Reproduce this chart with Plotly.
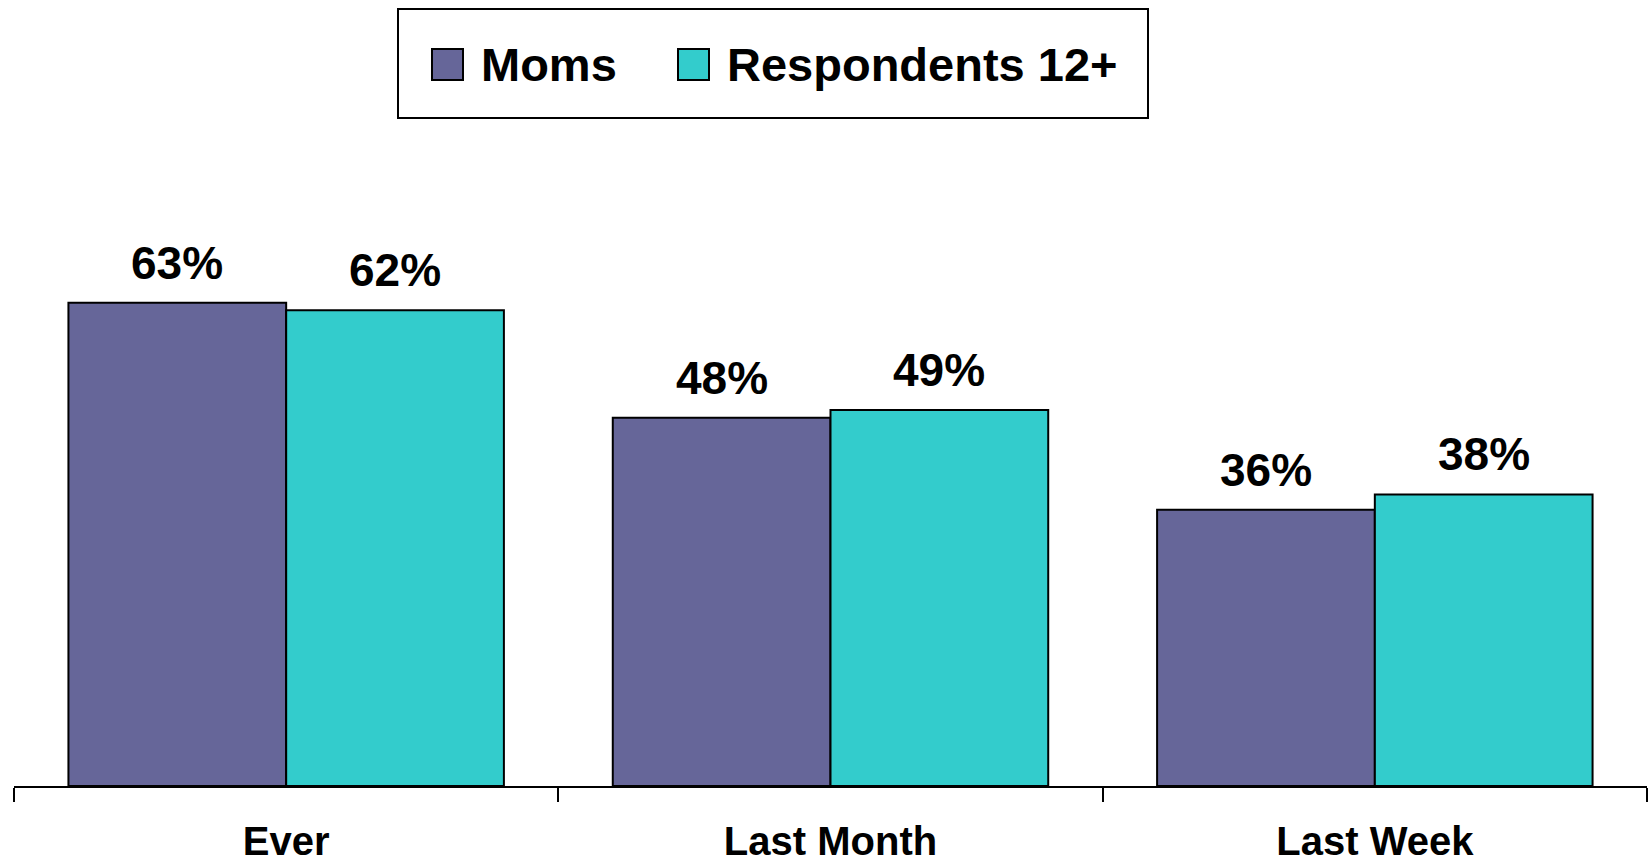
import plotly.graph_objects as go

categories = ["Ever", "Last Month", "Last Week"]
moms = [63, 48, 36]
respondents = [62, 49, 38]
series_names = ["Moms", "Respondents 12+"]
series_colors = ["#666699", "#33CCCC"]

FONT = "Liberation Sans, Arial, sans-serif"

W, H = 1648, 863
L, R, T, B = 14, 1, 249, 77
PLOT_W = W - L - R
PLOT_H = H - T - B

fig = go.Figure()
for name, vals, color in zip(series_names, [moms, respondents], series_colors):
    fig.add_trace(go.Bar(
        name=name, x=categories, y=vals,
        marker=dict(color=color, line=dict(color="black", width=2)),
        showlegend=False,
    ))

# value labels above each bar
for k, vals in enumerate([moms, respondents]):
    offset = -0.2 if k == 0 else 0.2
    for i, v in enumerate(vals):
        fig.add_annotation(
            x=i + offset, y=v, xref="x", yref="y",
            text=f"{v}%", showarrow=False,
            yanchor="bottom", yshift=12,
            font=dict(family=FONT, size=46, color="black", weight="bold"),
        )

# legend box placed in pixel positions, converted to plot-area paper coordinates
def px(x):
    return (x - L) / PLOT_W
def py(y):
    return (H - B - y) / PLOT_H

fig.add_shape(type="rect", xref="paper", yref="paper",
              x0=px(398), x1=px(1148), y0=py(118), y1=py(9),
              line=dict(color="black", width=2), fillcolor="white", layer="above")
legend_items = [(432, 479), (678, 725)]
for (mx, tx), name, color in zip(legend_items, series_names, series_colors):
    fig.add_shape(type="rect", xref="paper", yref="paper",
                  x0=px(mx), x1=px(mx + 31), y0=py(80), y1=py(49),
                  line=dict(color="black", width=2), fillcolor=color, layer="above")
    fig.add_annotation(x=px(tx), y=py(64.5), xref="paper", yref="paper",
                       text=name, showarrow=False, xanchor="left", yanchor="middle",
                       font=dict(family=FONT, size=47, color="black", weight="bold"))

fig.update_layout(
    width=W, height=H,
    margin=dict(l=L, r=R, t=T, b=B, autoexpand=False),
    plot_bgcolor="white", paper_bgcolor="white",
    barmode="group", bargap=0.2, bargroupgap=0,
    xaxis=dict(
        showline=True, linecolor="black", linewidth=2,
        ticks="outside", tickson="boundaries", ticklen=14, tickwidth=2, tickcolor="black",
        ticklabelstandoff=19, automargin=False,
        tickfont=dict(family=FONT, size=40, color="black", weight="bold"),
        showgrid=False, zeroline=False, fixedrange=True,
    ),
    yaxis=dict(visible=False, range=[0, 70], fixedrange=True, automargin=False),
)

fig.write_html("out.html")
